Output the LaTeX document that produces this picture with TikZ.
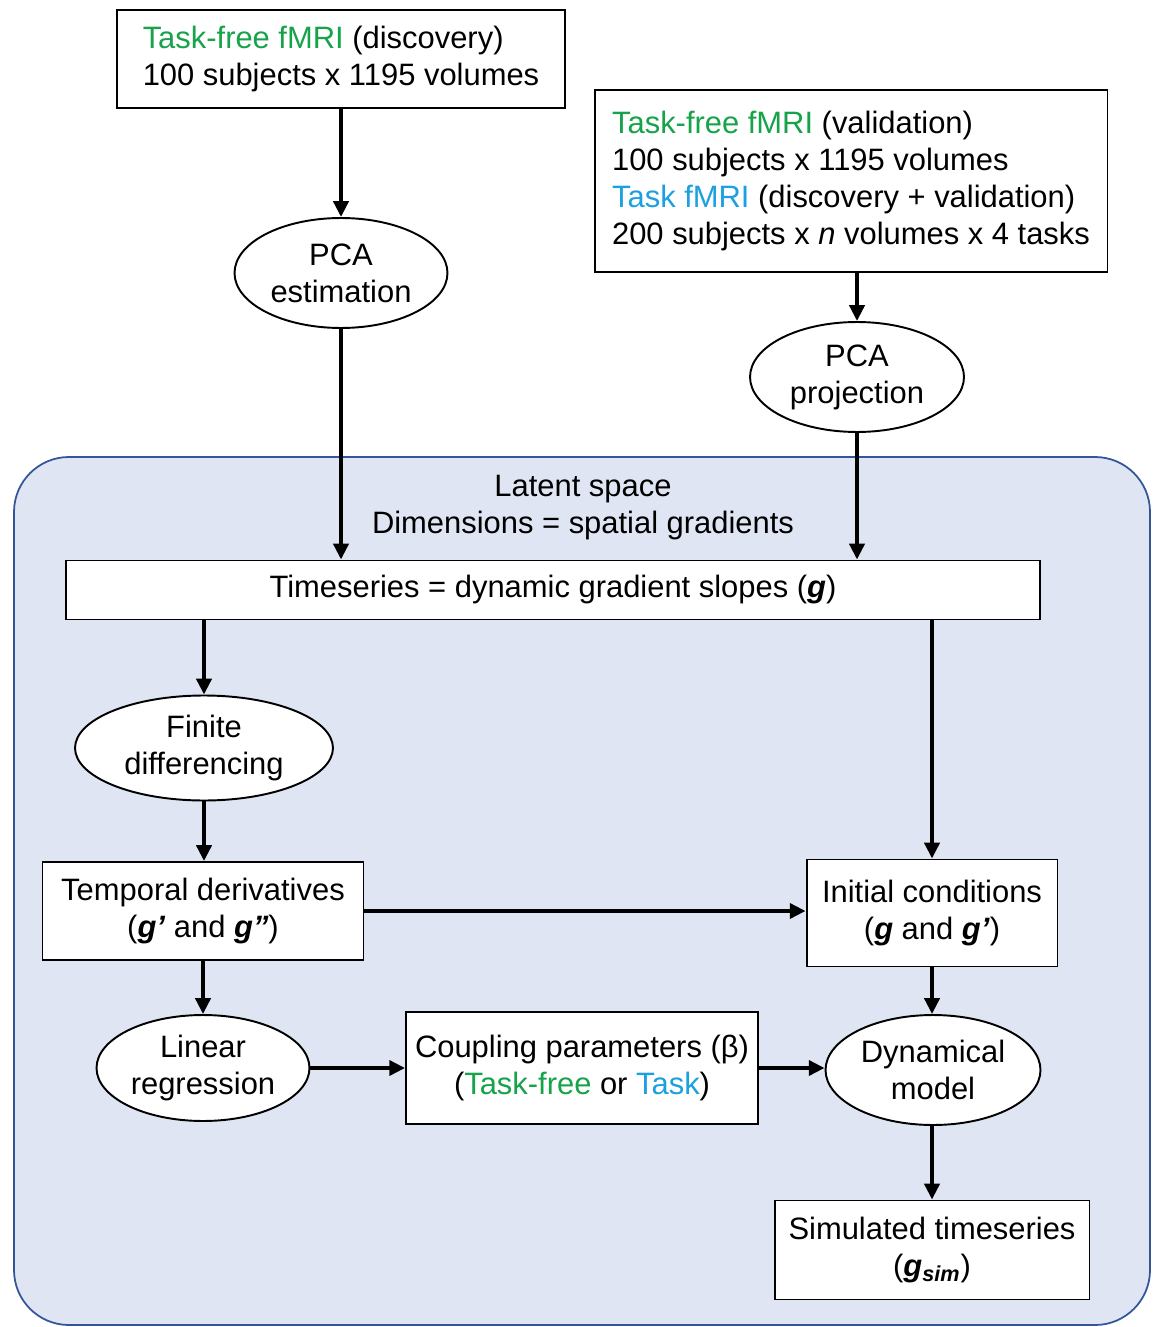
\documentclass[tikz,border=0pt]{standalone}
\usepackage{fontspec}
\setmainfont{Liberation Sans}
\usepackage{tikz}
\usetikzlibrary{arrows.meta,shapes.geometric}
\definecolor{freegreen}{RGB}{22,163,74}
\definecolor{taskblue}{RGB}{27,161,226}
\definecolor{latentfill}{RGB}{223,229,242}
\definecolor{latentdraw}{RGB}{52,86,152}
\newcommand{\gvec}[1]{\textbf{\textit{#1}}}

\begin{document}
\begin{tikzpicture}[
        x=0.02cm, y=-0.02cm,
        font=\fontsize{17.6}{21}\selectfont,
        databox/.style={rectangle, draw=black, fill=white, line width=1.1pt, align=center, inner sep=0pt},
        stepoval/.style={ellipse, draw=black, fill=white, line width=1.1pt, align=center, inner sep=0pt},
        arrow/.style={-{Triangle[length=9pt, width=8.5pt]}, line width=2.2pt}
    ]
    \useasboundingbox (0,0) rectangle (1152,1327);
    \draw[rounded corners=1.1cm, fill=latentfill, draw=latentdraw, line width=1pt] (14,457) rectangle (1150,1325);

    \node[databox, align=left, minimum width=8.98cm, minimum height=1.96cm] (disc) at (341,59) {\textcolor{freegreen}{Task-free fMRI} (discovery)\\100 subjects x 1195 volumes};
    \node[databox, align=left, minimum width=10.26cm, minimum height=3.64cm] (valid) at (851,181) {\textcolor{freegreen}{Task-free fMRI} (validation)\\100 subjects x 1195 volumes\\\textcolor{taskblue}{Task fMRI} (discovery + validation)\\200 subjects x \textit{n} volumes x 4 tasks};

    \node[stepoval, minimum width=4.26cm, minimum height=2.2cm] (pcaest) at (341,273) {PCA\\estimation};
    \node[stepoval, minimum width=4.28cm, minimum height=2.2cm] (pcaproj) at (857,377) {PCA\\projection};

    \node[align=center] (latent) at (583,508) {Latent space\\Dimensions = spatial gradients};
    \node[databox, minimum width=19.48cm, minimum height=1.18cm] (ts) at (553,590) {Timeseries = dynamic gradient slopes (\gvec{g})};

    \node[stepoval, minimum width=5.16cm, minimum height=2.1cm] (fd) at (204,748) {Finite\\differencing};
    \node[databox, minimum width=6.42cm, minimum height=1.96cm] (td) at (203,911) {Temporal derivatives\\(\gvec{g’} and \gvec{g”})};
    \node[databox, minimum width=5.02cm, minimum height=2.14cm] (ic) at (932,913) {Initial conditions\\(\gvec{g} and \gvec{g’})};

    \node[stepoval, minimum width=4.26cm, minimum height=2.12cm] (lr) at (203,1068) {Linear\\regression};
    \node[databox, minimum width=7.04cm, minimum height=2.24cm] (cp) at (582,1068) {Coupling parameters (β)\\(\textcolor{freegreen}{Task-free} or \textcolor{taskblue}{Task})};
    \node[stepoval, minimum width=4.3cm, minimum height=2.2cm] (dm) at (933,1070) {Dynamical\\model};
    \node[databox, minimum width=6.3cm, minimum height=1.98cm] (sim) at (932,1250) {Simulated timeseries\\(\gvec{g}\textsubscript{\gvec{sim}})};

    \draw[arrow] (disc.south) -- (pcaest.north);
    \draw[arrow] (valid.south -| pcaproj.north) -- (pcaproj.north);
    \draw[arrow] (pcaest.south) -- (ts.north -| pcaest.south);
    \draw[arrow] (pcaproj.south) -- (ts.north -| pcaproj.south);
    \draw[arrow] (ts.south -| fd.north) -- (fd.north);
    \draw[arrow] (ts.south -| ic.north) -- (ic.north);
    \draw[arrow] (fd.south) -- (td.north -| fd.south);
    \draw[arrow] (td.east) -- (td.east -| ic.west);
    \draw[arrow] (td.south) -- (lr.north -| td.south);
    \draw[arrow] (lr.east) -- (cp.west);
    \draw[arrow] (cp.east) -- (cp.east -| dm.west);
    \draw[arrow] (ic.south) -- (dm.north -| ic.south);
    \draw[arrow] (dm.south -| sim.north) -- (sim.north);
\end{tikzpicture}
\end{document}
